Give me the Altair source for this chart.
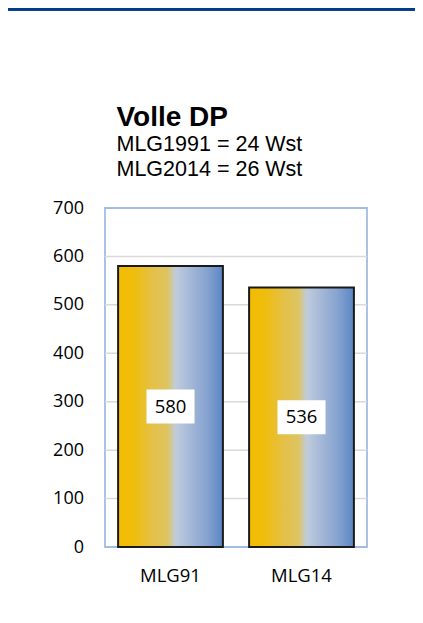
import altair as alt
import pandas as pd

categories = ["MLG91", "MLG14"]
values = [580, 536]
y_ticks = [0, 100, 200, 300, 400, 500, 600, 700]
grid_values = [100, 200, 300, 400, 500, 600]
title_text = "Volle DP"
subtitle_lines = ["MLG1991 = 24 Wst", "MLG2014 = 26 Wst"]

df = pd.DataFrame({"cat": categories, "val": values})
grid_df = pd.DataFrame({"g": grid_values})

grad = alt.Gradient(
    gradient="linear",
    x1=0, x2=1, y1=0, y2=0,
    stops=[
        alt.GradientStop(color="#F2BC00", offset=0.0),
        alt.GradientStop(color="#EFBD0C", offset=0.15),
        alt.GradientStop(color="#E4C048", offset=0.33),
        alt.GradientStop(color="#DDC462", offset=0.47),
        alt.GradientStop(color="#BFCCDC", offset=0.55),
        alt.GradientStop(color="#A2B6D7", offset=0.7),
        alt.GradientStop(color="#85A2CF", offset=0.85),
        alt.GradientStop(color="#5B86C4", offset=1.0),
    ],
)

x_enc = alt.X(
    "cat:N", sort=categories,
    scale=alt.Scale(paddingInner=0.2, paddingOuter=0.1),
    axis=alt.Axis(title=None, labelAngle=0, labelFont="Open Sans", labelFontSize=18.5,
                  labelColor="#000000", ticks=False, domain=False, labelPadding=19.5, grid=False),
)
y_axis = alt.Axis(values=y_ticks, title=None, grid=False,
                  ticks=False, domain=False, labelFont="Open Sans", labelFontSize=18,
                  labelColor="#000000", labelPadding=21.5)

grid = alt.Chart(grid_df).mark_rule(color="#D9D9D9", strokeWidth=1.5).encode(
    y=alt.Y("g:Q", scale=alt.Scale(domain=[0, 700]), axis=y_axis)
)

base = alt.Chart(df).transform_calculate(
    mid="datum.val / 2", lo="datum.val / 2 - 35", hi="datum.val / 2 + 35"
)

bars = base.mark_bar(fill=grad, stroke="#1A1A1A", strokeWidth=2).encode(
    x=x_enc,
    y=alt.Y("val:Q", scale=alt.Scale(domain=[0, 700]), axis=y_axis),
)

boxes = base.mark_bar(width=48, color="white").encode(
    x=alt.X("cat:N", sort=categories),
    y=alt.Y("lo:Q"),
    y2="hi:Q",
)

labels = base.mark_text(font="Open Sans", fontSize=18.5, color="#000000", baseline="middle").encode(
    x=alt.X("cat:N", sort=categories),
    y=alt.Y("mid:Q"),
    text="val:Q",
)

frame_top = alt.Chart(df).mark_rule(color="#003B85", strokeWidth=2.8).encode(
    x=alt.value(-97), x2=alt.value(320), y=alt.value(-198.6)
)

chart = alt.layer(grid, bars, boxes, labels, frame_top).properties(
    width=262, height=339,
    background="white",
    autosize=alt.AutoSizeParams(type="none"),
    padding={"left": 97, "top": 200, "right": 48, "bottom": 68},
    title=alt.TitleParams(
        text=title_text, subtitle=subtitle_lines, anchor="start", frame="group",
        font="Liberation Sans", fontSize=28, fontWeight="bold", color="#000000",
        subtitleFont="Liberation Sans", subtitleFontSize=21.5, subtitleColor="#000000",
        subtitleLineHeight=25.7, subtitlePadding=2, offset=-173, dx=11.5,
    ),
).configure_view(stroke="#A3BDE0", strokeWidth=1.8)

chart.save("out.html", embed_options={"renderer": "svg", "actions": False})
